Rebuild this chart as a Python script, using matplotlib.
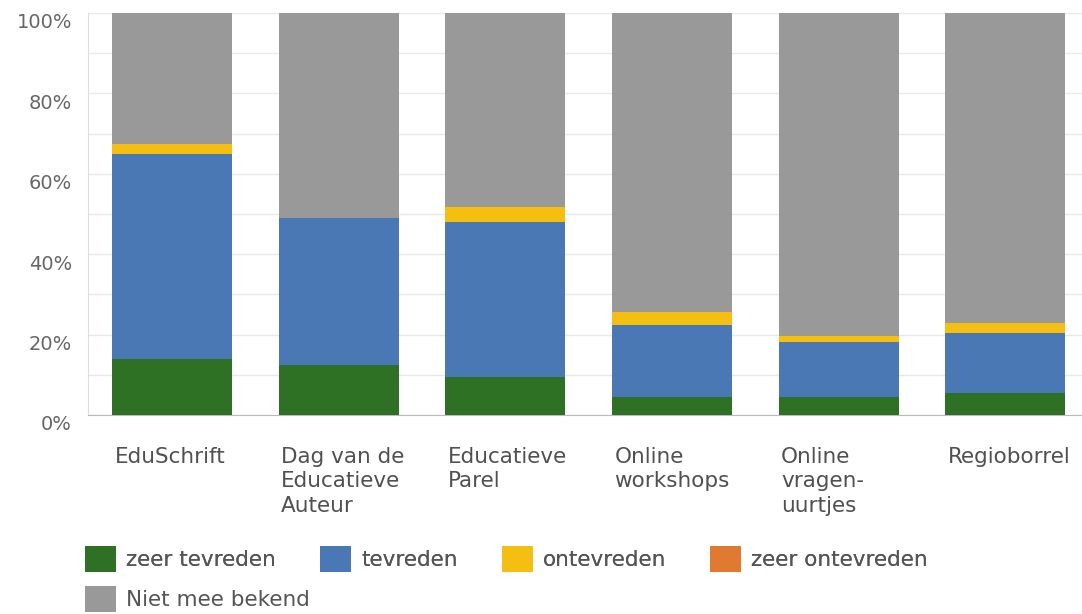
import matplotlib
matplotlib.use("Agg")
import matplotlib.pyplot as plt
import matplotlib.transforms as mtransforms
import numpy as np
from matplotlib.patches import Patch

categories = ["EduSchrift", "Dag van de\nEducatieve\nAuteur", "Educatieve\nParel",
              "Online\nworkshops", "Online\nvragen-\nuurtjes", "Regioborrel"]
zeer_tevreden = [14.0, 12.4, 9.4, 4.6, 4.6, 5.4]
tevreden = [51.0, 36.7, 38.7, 17.8, 13.6, 14.9]
ontevreden = [2.3, 0.0, 3.6, 3.3, 1.5, 2.7]
zeer_ontevreden = [0.0, 0.0, 0.0, 0.0, 0.0, 0.0]
niet_bekend = [100 - a - b - c - d for a, b, c, d in
               zip(zeer_tevreden, tevreden, ontevreden, zeer_ontevreden)]

series = [("zeer tevreden", zeer_tevreden, "#2e7024"),
          ("tevreden", tevreden, "#4a78b4"),
          ("ontevreden", ontevreden, "#f5bf12"),
          ("zeer ontevreden", zeer_ontevreden, "#e07a30"),
          ("Niet mee bekend", niet_bekend, "#999999")]

yticks = [0, 20, 40, 60, 80, 100]

fig = plt.figure(figsize=(10.82, 6.14), dpi=100)
ax = fig.add_axes([88 / 1082, 1 - 415 / 614, (1082 - 88) / 1082, (415 - 13) / 614])

x = np.arange(len(categories))
bottom = np.zeros(len(categories))
for name, vals, col in series:
    v = np.array(vals)
    ax.bar(x, v, bottom=bottom, width=0.72, color=col, label=name, zorder=3, linewidth=0)
    bottom += v

ax.set_ylim(0, 100)
ax.set_xlim(-0.505, 5.46)
ax.set_yticks(yticks)
ax.set_yticklabels([f"{t}%" for t in yticks], color="#666666", fontsize=14)
ax.set_yticks(np.arange(0, 101, 10), minor=True)
ax.grid(axis="y", which="both", color="#e8e8e8", linewidth=1, zorder=0)
ax.tick_params(axis="y", which="both", length=0, pad=11.5)
offset = mtransforms.ScaledTranslation(0, -8 / 100, fig.dpi_scale_trans)
for lbl in ax.get_yticklabels():
    lbl.set_transform(lbl.get_transform() + offset)
ax.set_xticks([])
for s in ["top", "right"]:
    ax.spines[s].set_visible(False)
ax.spines["left"].set_color("#dddddd")
ax.spines["bottom"].set_color("#bbbbbb")

for i, lab in enumerate(categories):
    ax.text(i - 0.345, -8.0, lab, ha="left", va="top", fontsize=15.5, color="#505050",
            linespacing=1.27, transform=ax.transData)

handles = [Patch(facecolor=c, edgecolor="none") for _, _, c in series]
labels = [n for n, _, _ in series]
common = dict(frameon=False, fontsize=15.5, handlelength=1.44, handleheight=1.49,
              handletextpad=0.47, labelcolor="#555555", borderaxespad=0, borderpad=0)
leg1 = fig.legend(handles[:4], labels[:4], loc="center left",
                  bbox_to_anchor=(85 / 1082, 1 - 559 / 614), ncol=4, columnspacing=2.05, **common)
leg2 = fig.legend(handles[4:], labels[4:], loc="center left",
                  bbox_to_anchor=(85 / 1082, 1 - 599 / 614), ncol=1, **common)
fig.add_artist(leg1)

fig.savefig("out.png", dpi=100)
